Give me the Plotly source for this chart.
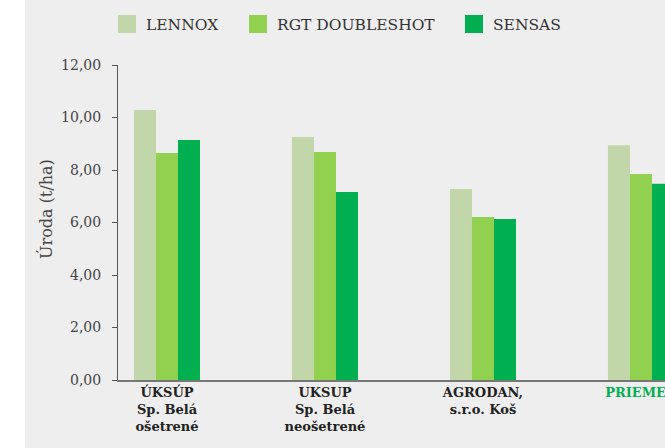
import plotly.graph_objects as go

# ---- data ----
categories = ["ÚKSÚP<br>Sp. Belá<br>ošetrené", "UKSUP<br>Sp. Belá<br>neošetrené",
              "AGRODAN,<br>s.r.o. Koš", "PRIEMER"]
series_names = ["LENNOX", "RGT DOUBLESHOT", "SENSAS"]
lennox = [10.29, 9.26, 7.28, 8.94]
rgt_doubleshot = [8.65, 8.69, 6.21, 7.85]
sensas = [9.14, 7.16, 6.13, 7.48]
y_ticks = [0, 2, 4, 6, 8, 10, 12]
y_tick_labels = ["0,00", "2,00", "4,00", "6,00", "8,00", "10,00", "12,00"]
y_title = "Úroda (t/ha)"

colors = ["#c1d6a9", "#92d050", "#00b050"]
FONT = "DejaVu Serif"

W, H = 665, 448
ML, MR, MT, MB = 118, 0, 65, 68
PW, PH = W - ML - MR, H - MT - MB


def px(x):
    return (x - ML) / PW


def py(y):
    return (H - MB - y) / PH


xkeys = list(range(len(categories)))
tick_text = []
for i, c in enumerate(categories):
    if c == "PRIEMER":
        tick_text.append("<b><span style='color:#00b050'>" + c + "</span></b>")
    else:
        tick_text.append("<b>" + c + "</b>")

fig = go.Figure()
for name, vals, col in zip(series_names, [lennox, rgt_doubleshot, sensas], colors):
    fig.add_trace(go.Bar(x=xkeys, y=vals, name=name, marker=dict(color=col, line=dict(width=0)),
                         showlegend=False, hoverinfo="skip"))

# manual legend
legend_sq_x = [118, 249, 465]
for name, col, sx in zip(series_names, colors, legend_sq_x):
    fig.add_shape(type="rect", xref="paper", yref="paper",
                  x0=px(sx), x1=px(sx + 18), y0=py(33), y1=py(15),
                  fillcolor=col, line=dict(width=0))
    fig.add_annotation(xref="paper", yref="paper", x=px(sx + 26), y=py(25),
                       text=name, showarrow=False, xanchor="left", yanchor="middle",
                       font=dict(family=FONT, size=15.5, color="#333333"))

# white strip on the left
fig.add_shape(type="rect", xref="paper", yref="paper", x0=px(-5), x1=px(25),
              y0=py(H + 5), y1=py(-5), fillcolor="white", line=dict(width=0), layer="below")

fig.add_annotation(xref="paper", yref="paper", x=px(46), y=py(209), text=y_title,
                   textangle=-90, showarrow=False, xanchor="center", yanchor="middle",
                   font=dict(family=FONT, size=16, color="#444444"))

fig.update_layout(
    width=W, height=H,
    margin=dict(l=ML, r=MR, t=MT, b=MB, pad=0, autoexpand=False),
    paper_bgcolor="#eeeeee", plot_bgcolor="#eeeeee",
    barmode="group", bargap=0.582, bargroupgap=0,
    font=dict(family=FONT, color="#333333"),
    showlegend=False,
)
fig.update_xaxes(
    tickmode="array", tickvals=xkeys, ticktext=tick_text,
    range=[-0.31, 3.152], showgrid=False, zeroline=False,
    showline=True, linecolor="#777777", linewidth=1.5, ticks="",
    tickfont=dict(family=FONT, size=13, color="#222222"),
    ticklabeloverflow="allow", automargin=False,
)
fig.update_yaxes(
    range=[0, 12], tickmode="array", tickvals=y_ticks, ticktext=y_tick_labels,
    showgrid=False, zeroline=False, showline=True, linecolor="#555555", linewidth=1,
    ticks="outside", ticklen=5, tickcolor="#555555", tickwidth=1,
    tickfont=dict(family=FONT, size=14, color="#444444"), ticklabelstandoff=8,
    automargin=False,
)

fig.write_html(
    "out.html",
    config={"displayModeBar": False},
    post_script="document.body.style.margin='0';document.body.style.overflow='hidden';",
)
